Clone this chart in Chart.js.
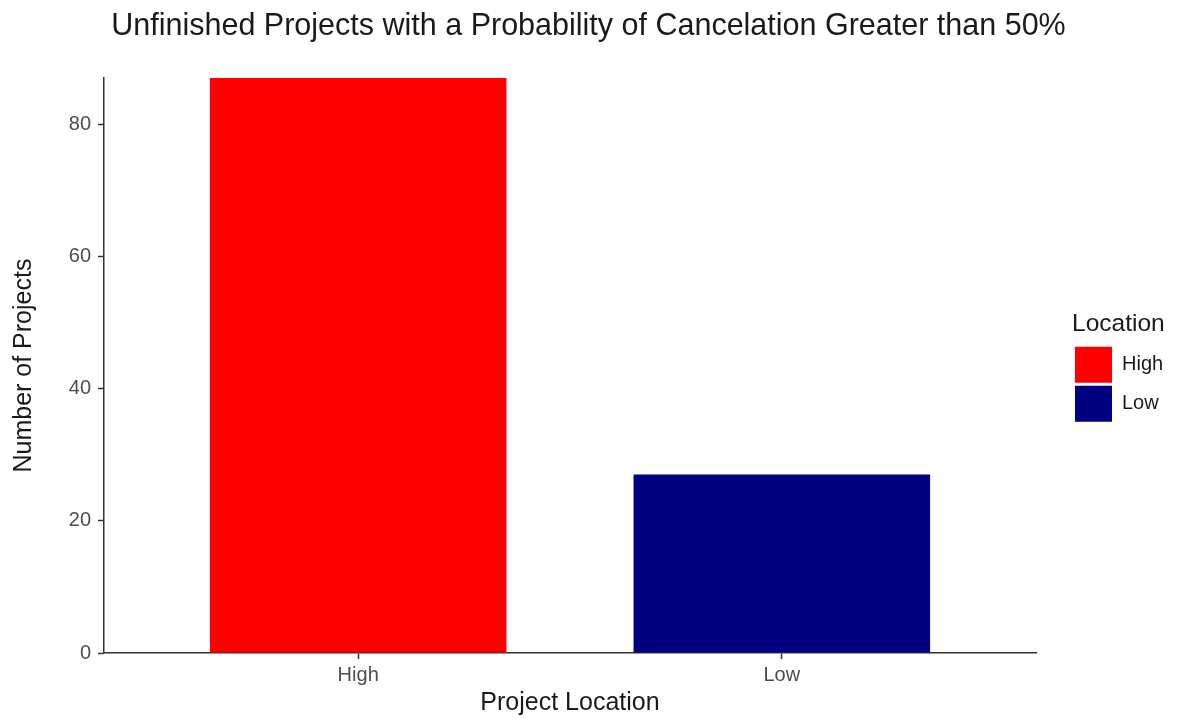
<!DOCTYPE html>
<html>
<head>
<meta charset="utf-8">
<script src="https://cdn.jsdelivr.net/npm/chart.js@4"></script>
<style>
  html, body { margin: 0; padding: 0; background: #fff; }
  #wrap { width: 1177px; height: 719px; }
</style>
</head>
<body>
<div id="wrap"><canvas id="projects-chart"></canvas></div>
<script>
const categories = ['High', 'Low'];
const projectCounts = [87, 27];
const barColors = ['#FF0000', '#000080'];
const yTicks = [0, 20, 40, 60, 80];

const FONT = "'Liberation Sans', Arial, sans-serif";

const datasets = categories.map((name, i) => ({
  label: name,
  data: [{ x: i + 1, y: projectCounts[i] }],
  backgroundColor: barColors[i],
  borderWidth: 0,
  grouped: false,
  categoryPercentage: 1,
  barPercentage: 0.7
}));

// legend sits in a fixed-width column to the right of the panel, like ggplot
const legendColumn = {
  id: 'legendColumn',
  beforeLayout(chart) {
    const legend = chart.legend;
    if (!legend || legend._fixedFit) return;
    const fit = legend.fit;
    legend.fit = function () {
      fit.call(this);
      this.width = 141;
    };
    legend._fixedFit = true;
  },
  afterLayout(chart) {
    const legend = chart.legend;
    if (!legend) return;
    legend.left += 36;
    legend.right += 36;
    legend.top += 7;
    legend.bottom += 7;
  }
};

new Chart(document.getElementById('projects-chart'), {
  type: 'bar',
  data: { datasets: datasets },
  options: {
    responsive: true,
    maintainAspectRatio: false,
    animation: false,
    layout: { padding: 0 },
    scales: {
      x: {
        type: 'linear',
        min: 0.4,
        max: 2.6,
        offset: false,
        afterBuildTicks: (scale) => { scale.ticks = categories.map((c, i) => ({ value: i + 1 })); },
        afterFit: (scale) => { scale.height = 66; },
        ticks: {
          callback: (value) => categories[value - 1],
          color: '#4d4d4d',
          font: { family: FONT, size: 20 },
          padding: 4
        },
        grid: { offset: false, drawOnChartArea: false, drawTicks: true, tickLength: 6, tickColor: '#333', tickWidth: 1.5 },
        border: { display: true, color: '#333', width: 1.5 },
        title: {
          display: true,
          text: 'Project Location',
          color: '#1a1a1a',
          font: { family: FONT, size: 25 },
          padding: { top: 0, bottom: 1 }
        }
      },
      y: {
        min: 0,
        max: 87,
        afterBuildTicks: (scale) => { scale.ticks = yTicks.map(v => ({ value: v })); },
        afterFit: (scale) => { scale.width = 104; },
        ticks: {
          color: '#4d4d4d',
          font: { family: FONT, size: 20 },
          padding: 7
        },
        grid: { drawOnChartArea: false, drawTicks: true, tickLength: 6, tickColor: '#333', tickWidth: 1.5 },
        border: { display: true, color: '#333', width: 1.5 },
        title: {
          display: true,
          text: 'Number of Projects',
          color: '#1a1a1a',
          font: { family: FONT, size: 25 },
          padding: { top: 9, bottom: 0 }
        }
      }
    },
    plugins: {
      title: {
        display: true,
        text: 'Unfinished Projects with a Probability of Cancelation Greater than 50%',
        color: '#1a1a1a',
        font: { family: FONT, size: 30.5, weight: 'normal' },
        padding: { top: 8, bottom: 33.5 }
      },
      legend: {
        display: true,
        position: 'right',
        align: 'center',
        title: {
          display: true,
          text: 'Location',
          position: 'start',
          color: '#1a1a1a',
          font: { family: FONT, size: 24.5 },
          padding: { top: 4, bottom: 2 }
        },
        labels: {
          boxWidth: 37,
          boxHeight: 36,
          padding: 3,
          color: '#1a1a1a',
          font: { family: FONT, size: 20 }
        }
      },
      tooltip: { enabled: false }
    }
  },
  plugins: [legendColumn]
});
</script>
</body>
</html>
